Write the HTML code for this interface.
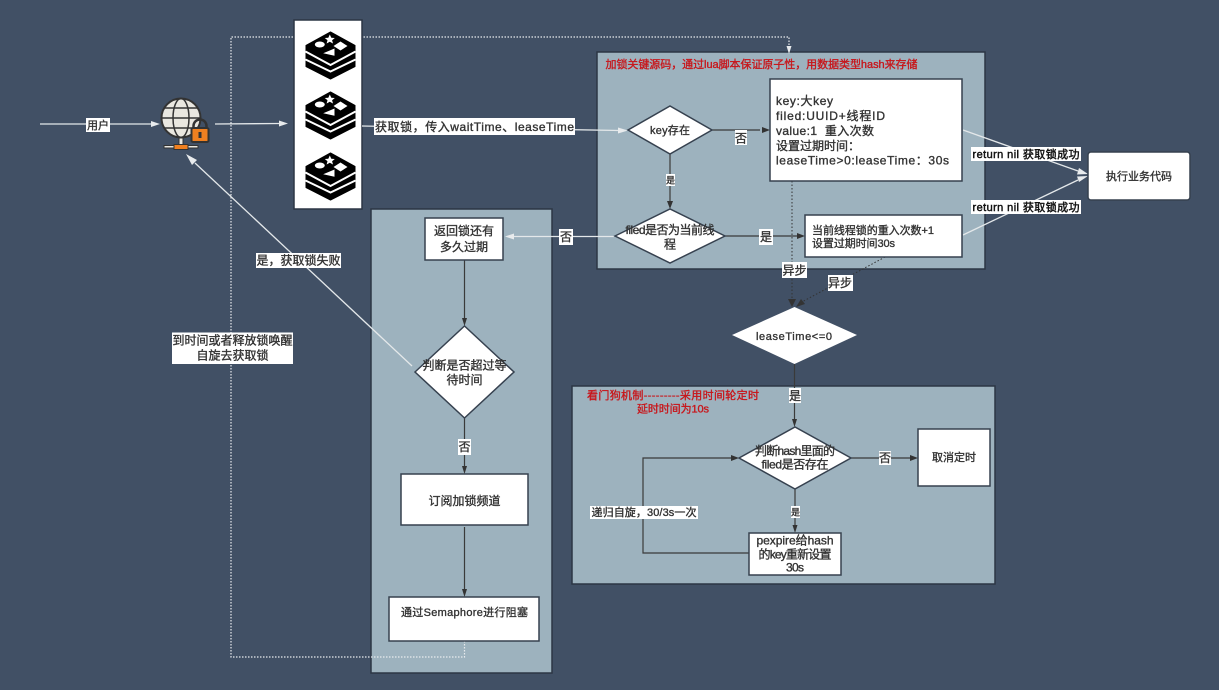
<!DOCTYPE html>
<html><head><meta charset="utf-8">
<style>
html,body{margin:0;padding:0;background:#415065;}
svg{display:block;}
text{font-family:"Liberation Sans","Noto Sans CJK SC",sans-serif;font-size:11px;font-weight:400;fill:#333;stroke:#333;stroke-width:.35;text-anchor:middle;}
.t{font-size:12px}
.b{fill:#111;stroke:#111;stroke-width:.45}
.l{text-anchor:start}
.r{fill:#c8161b;stroke:#c8161b;font-size:11px}
.lb{fill:#fff}
.box{fill:#fff;stroke:#36414f;stroke-width:1.5}
.pn{fill:#9db2be;stroke:#2c3645;stroke-width:1.5}
.d{fill:none;stroke:#3a3a3a;stroke-width:1.2}
.w{fill:none;stroke:#e4e8ea;stroke-width:1.3}
.dw{fill:none;stroke:#e8ebee;stroke-width:1.2;stroke-dasharray:1.5 1.5}
.dk{fill:none;stroke:#333;stroke-width:1;stroke-dasharray:1.5 2}
.ad{fill:#333}.aw{fill:#e8ebed}
</style></head>
<body>
<svg width="1219" height="690" viewBox="0 0 1219 690" xmlns="http://www.w3.org/2000/svg">
<defs>
<g id="redis">
<path d="M0 -23.500L24.500 -10V11L0 23.500L-24.500 11V-10Z" fill="#000" stroke="#000" stroke-width="1" stroke-linejoin="round"/>
<path d="M-25 -4L0 9.500L25 -4" fill="none" stroke="#fff" stroke-width="2"/>
<path d="M-25 4L0 16L25 4" fill="none" stroke="#fff" stroke-width="2"/>
<ellipse cx="-10.700" cy="-11" rx="5" ry="3" fill="#fff"/>
<polygon points="-0.700,-21 0.800,-17.800 4.300,-17.500 1.600,-15.300 2.500,-12 -0.700,-13.800 -3.900,-12 -3,-15.300 -5.700,-17.500 -2.200,-17.800" fill="#fff"/>
<polygon points="10,-14 17,-9.500 10,-5 3,-9.500" fill="#fff"/>
<polygon points="4,-7 4,0.200 -7.300,-2.200" fill="#fff"/>
</g>
</defs>

<rect width="1219" height="690" fill="#415065"/>

<!-- panels -->
<rect class="pn" x="371" y="209" width="181" height="464"/>
<rect class="pn" x="597" y="52" width="388" height="217"/>
<rect class="pn" x="572" y="386" width="423" height="198"/>

<!-- dashed loop -->
<path class="dw" d="M464.500 641V657H231V37H789V47"/>
<polygon class="aw" points="786.500,46 791.500,46 789,54"/>

<!-- redis -->
<rect x="294" y="20" width="68" height="189" fill="#fff" stroke="#2c3645" stroke-width="1.5"/>
<use href="#redis" x="330.500" y="55.500"/>
<use href="#redis" x="330.500" y="115.500"/>
<use href="#redis" x="330.500" y="176.500"/>

<!-- globe -->
<circle cx="181" cy="118" r="19.500" fill="#e9e7e0" stroke="#333" stroke-width="2"/>
<ellipse cx="181" cy="118" rx="8" ry="19.500" fill="none" stroke="#333" stroke-width="1.500"/>
<path d="M161.500 118H200.500M164.500 108H197.500M164.500 128H197.500" stroke="#333" stroke-width="1.500" fill="none"/>
<rect x="179" y="138" width="4" height="7" fill="#e9e7e0" stroke="#333"/>
<rect x="164" y="145.500" width="34" height="2.500" fill="#e9e7e0" stroke="#333"/>
<rect x="174" y="144.500" width="14" height="5" fill="#f08020" stroke="#333"/>
<path d="M193.500 129V126a6.500 6.500 0 0 1 13 0V129" fill="none" stroke="#333" stroke-width="2.500"/>
<rect x="191.500" y="128" width="17" height="14" rx="1.500" fill="#f08020" stroke="#333" stroke-width="2"/>
<rect x="198.500" y="132" width="3" height="6" fill="#333"/>

<!-- white connectors -->
<path class="w" d="M40 124H152"/><polygon class="aw" points="151,121 160,124 151,127"/>
<path class="w" d="M215 124L280 123.500"/><polygon class="aw" points="279,120.500 288,123.500 279,126.500"/>
<path class="w" d="M362 126L620 130.500"/><polygon class="aw" points="618,127.500 628,130.500 618,133.500"/>
<path class="w" d="M963 130L1078 171"/><polygon class="aw" points="1079,168 1088,174 1077,174.500"/>
<path class="w" d="M963 235L1078 180"/><polygon class="aw" points="1077,176.500 1088,176 1079,182"/>
<path class="w" d="M614 236.500H513"/><polygon class="aw" points="514,233.500 505,236.500 514,239.500"/>
<path class="w" d="M412 366L195 163"/><polygon class="aw" points="197,160 186,154 192,165"/>

<!-- dark connectors -->
<path class="d" d="M712 130H760"/><polygon class="ad" points="762,127 770,130 762,133"/>
<path class="d" d="M670 154V202"/><polygon class="ad" points="667,201 673,201 670,209"/>
<path class="d" d="M725 236H798"/><polygon class="ad" points="797,233 805,236 797,239"/>
<path class="d" d="M464.500 260V319"/><polygon class="ad" points="462,318 467,318 464.500,326"/>
<path class="d" d="M464.500 418V467"/><polygon class="ad" points="462,466 467,466 464.500,474"/>
<path class="d" d="M464.500 527V590"/><polygon class="ad" points="462,589 467,589 464.500,597"/>
<path class="dk" d="M792 181V300"/><polygon class="ad" points="792,307 788,299 796,299"/>
<path class="dk" d="M885 257L800 303"/><polygon class="ad" points="796,307 801,299 805,304"/>
<path class="d" d="M794.500 364V420"/><polygon class="ad" points="792,419 797,419 794.500,427"/>
<path class="d" d="M851 458H911"/><polygon class="ad" points="910,455 918,458 910,461"/>
<path class="d" d="M795 489V526"/><polygon class="ad" points="792.500,525 797.500,525 795,533"/>
<path class="d" d="M749 553H643V458H732"/><polygon class="ad" points="731,455 739,458 731,461"/>

<!-- diamonds -->
<polygon class="box" points="628,130 670,106 712,130 670,154"/>
<polygon class="box" points="615,236 670,209 725,236 670,263"/>
<polygon class="box" points="415,372 464.500,326 514,372 464.500,418"/>
<polygon points="732,335 794.500,307 857,335 794.500,364" fill="#fff"/>
<polygon class="box" points="739,458 795,427 851,458 795,489"/>

<!-- boxes -->
<rect class="box" x="770" y="79" width="192" height="102"/>
<rect class="box" x="805" y="215" width="157" height="42"/>
<rect class="box" x="425" y="218" width="78" height="42"/>
<rect class="box" x="401" y="474" width="127" height="51"/>
<rect class="box" x="389" y="597" width="150" height="44"/>
<rect class="box" x="918" y="429" width="72" height="57"/>
<rect class="box" x="749" y="533" width="92" height="42"/>
<rect class="box" x="1088" y="152" width="102" height="48" rx="3"/>

<!-- label backgrounds -->
<rect class="lb" x="86" y="118" width="24" height="14"/>
<rect class="lb" x="374" y="118" width="201" height="17"/>
<rect class="lb" x="735" y="130" width="12" height="15"/>
<rect class="lb" x="666" y="174" width="9" height="12"/>
<rect class="lb" x="759" y="229" width="14" height="16"/>
<rect class="lb" x="559" y="229" width="14" height="16"/>
<rect class="lb" x="782" y="262" width="25" height="16"/>
<rect class="lb" x="828" y="275" width="25" height="16"/>
<rect class="lb" x="971" y="147" width="110" height="14"/>
<rect class="lb" x="971" y="200" width="110" height="14"/>
<rect class="lb" x="256" y="253" width="85" height="15"/>
<rect class="lb" x="172" y="332.500" width="121" height="31.500"/>
<rect class="lb" x="458" y="439" width="13" height="16"/>
<rect class="lb" x="789" y="388" width="12" height="15"/>
<rect class="lb" x="879" y="451" width="12" height="14"/>
<rect class="lb" x="791" y="506" width="9" height="12"/>
<rect class="lb" x="590" y="506" width="108" height="13"/>

<!-- text -->
<text x="98" y="129">用户</text>
<text class="t" x="474.500" y="131" textLength="199">获取锁，传入waitTime、leaseTime</text>
<text class="l r" x="605.500" y="68" textLength="312">加锁关键源码，通过lua脚本保证原子性，用数据类型hash来存储</text>
<text x="670" y="134" textLength="40">key存在</text>
<text class="t" x="741" y="142.500">否</text>
<text x="670.500" y="183.500" style="font-size:9px">是</text>
<text class="t" x="670" y="234" textLength="89">filed是否为当前线</text>
<text class="t" x="670" y="248.500">程</text>
<text class="t" x="766" y="241">是</text>
<text class="t" x="566" y="241">否</text>
<text class="l t" x="776" y="105" textLength="57">key:大key</text>
<text class="l t" x="776" y="120" textLength="109">filed:UUID+线程ID</text>
<text class="l t" x="776" y="135" textLength="98">value:1&#160; 重入次数</text>
<text class="l t" x="776" y="150">设置过期时间：</text>
<text class="l t" x="776" y="164.500" textLength="173">leaseTime&gt;0:leaseTime：30s</text>
<text class="l" x="812" y="234" textLength="122">当前线程锁的重入次数+1</text>
<text class="l" x="812" y="247" textLength="83">设置过期时间30s</text>
<text class="t" x="794.500" y="274.500">异步</text>
<text class="t" x="840" y="287">异步</text>
<text class="b" x="1026" y="158" textLength="107">return nil 获取锁成功</text>
<text class="b" x="1026" y="211" textLength="107">return nil 获取锁成功</text>
<text x="1139" y="180">执行业务代码</text>
<text class="t" x="464" y="235">返回锁还有</text>
<text class="t" x="464" y="251">多久过期</text>
<text class="t" x="464.500" y="369.500">判断是否超过等</text>
<text class="t" x="464.500" y="384">待时间</text>
<text class="t" x="464.500" y="451">否</text>
<text class="t" x="464.500" y="505">订阅加锁频道</text>
<text x="464.500" y="616" textLength="127">通过Semaphore进行阻塞</text>
<text class="t" x="298.500" y="264.500">是，获取锁失败</text>
<text class="t" x="232.500" y="344.500">到时间或者释放锁唤醒</text>
<text class="t" x="232.500" y="359.500">自旋去获取锁</text>
<text x="794" y="340" textLength="76">leaseTime&lt;=0</text>
<text class="r" x="673" y="399" textLength="172">看门狗机制---------采用时间轮定时</text>
<text class="r" x="673" y="412.500" textLength="72">延时时间为10s</text>
<text class="t" x="795" y="400">是</text>
<text class="t" x="795" y="455" textLength="80">判断hash里面的</text>
<text class="t" x="795" y="468.500" textLength="67">filed是否存在</text>
<text class="t" x="885" y="462">否</text>
<text x="954" y="461">取消定时</text>
<text x="795.500" y="515.500" style="font-size:9px">是</text>
<text x="644" y="516" textLength="105">递归自旋，30/3s一次</text>
<text class="t" x="795" y="544.500" textLength="77">pexpire给hash</text>
<text class="t" x="795" y="558.500" textLength="73">的key重新设置</text>
<text class="t" x="795" y="571.500" textLength="18">30s</text>
</svg>
</body></html>
